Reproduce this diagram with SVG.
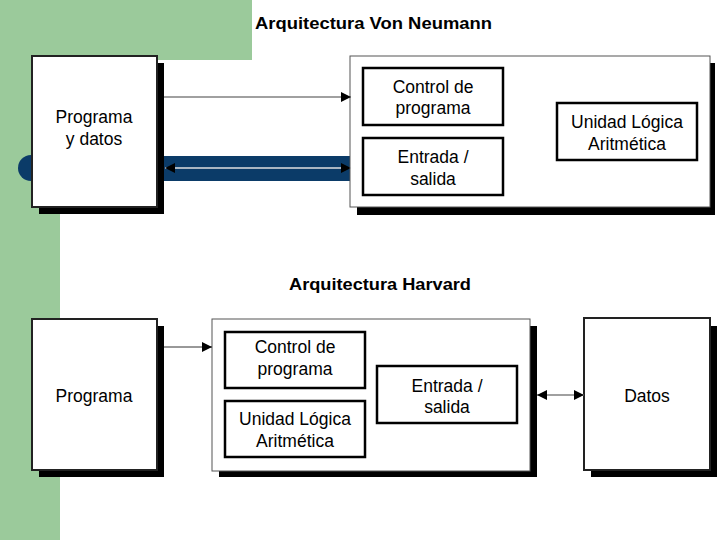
<svg xmlns="http://www.w3.org/2000/svg" width="720" height="540" viewBox="0 0 720 540">
<style>
.t{font-family:"Liberation Sans",Arial,sans-serif;font-size:17.5px;fill:#000;text-anchor:middle}
.h{font-family:"Liberation Sans",Arial,sans-serif;font-size:17px;font-weight:bold;fill:#000}
.sh{fill:#000}
.outer{fill:#fff;stroke:#555;stroke-width:1}
.mem{fill:#fff;stroke:#222;stroke-width:2}
.inner{fill:#fff;stroke:#000;stroke-width:2.5}
.ln{stroke:#808080;stroke-width:1.5;fill:none}
</style>
<defs>
<marker id="ah" markerWidth="10" markerHeight="10" refX="10" refY="5" orient="auto" markerUnits="userSpaceOnUse">
<path d="M0,0 L10,5 L0,10 Z" fill="#000"/>
</marker>
<marker id="ahs" markerWidth="10" markerHeight="10" refX="10" refY="5" orient="auto-start-reverse" markerUnits="userSpaceOnUse">
<path d="M0,0 L10,5 L0,10 Z" fill="#000"/>
</marker>
</defs>
<rect x="0" y="0" width="252" height="60" fill="#9bca9b"/>
<rect x="0" y="0" width="60" height="540" fill="#9bca9b"/>
<g id="blueband">
<circle cx="31" cy="168" r="13" fill="#0b3b68"/>
<rect x="160" y="156" width="192" height="25" fill="#0b3b68"/>
</g>
<text class="h" x="255" y="29" textLength="237" lengthAdjust="spacingAndGlyphs">Arquitectura Von Neumann</text>
<text class="h" x="289" y="290" textLength="182" lengthAdjust="spacingAndGlyphs">Arquitectura Harvard</text>
<g id="vn-mem">
<rect class="sh" x="39" y="63" width="125" height="151"/>
<rect class="mem" x="32" y="56" width="125" height="151"/>
<text class="t" x="94" y="123">Programa</text>
<text class="t" x="94" y="145">y datos</text>
</g>
<g id="vn-cpu">
<rect class="sh" x="357" y="63" width="358" height="152"/>
<rect class="outer" x="350" y="56" width="360" height="151"/>
</g>
<g id="vn-control">
<rect class="inner" x="363" y="68" width="140" height="57"/>
<text class="t" x="433" y="93">Control de</text>
<text class="t" x="433" y="114">programa</text>
</g>
<g id="vn-io">
<rect class="inner" x="363" y="138" width="140" height="57"/>
<text class="t" x="433" y="163">Entrada /</text>
<text class="t" x="433" y="185">salida</text>
</g>
<g id="vn-alu">
<rect class="inner" x="557" y="103" width="140" height="57"/>
<text class="t" x="627" y="128">Unidad Lógica</text>
<text class="t" x="627" y="150">Aritmética</text>
</g>
<g id="hv-prog">
<rect class="sh" x="39" y="326" width="125" height="151"/>
<rect class="mem" x="32" y="319" width="125" height="151"/>
<text class="t" x="94" y="402">Programa</text>
</g>
<g id="hv-cpu">
<rect class="sh" x="219" y="326" width="318" height="151"/>
<rect class="outer" x="212" y="319" width="318" height="152"/>
</g>
<g id="hv-control">
<rect class="inner" x="225" y="332" width="140" height="56"/>
<text class="t" x="295" y="353">Control de</text>
<text class="t" x="295" y="375">programa</text>
</g>
<g id="hv-alu">
<rect class="inner" x="225" y="401" width="140" height="56"/>
<text class="t" x="295" y="425">Unidad Lógica</text>
<text class="t" x="295" y="447">Aritmética</text>
</g>
<g id="hv-io">
<rect class="inner" x="377" y="366" width="140" height="57"/>
<text class="t" x="447" y="392">Entrada /</text>
<text class="t" x="447" y="413">salida</text>
</g>
<g id="hv-datos">
<rect class="sh" x="591" y="326" width="126" height="151"/>
<rect class="mem" x="584" y="318" width="126" height="152"/>
<text class="t" x="647" y="402">Datos</text>
</g>
<g id="connectors">
<line class="ln" x1="164" y1="97" x2="351" y2="97" marker-end="url(#ah)"/>
<line x1="165" y1="168" x2="351" y2="168" stroke="#e0e0e0" stroke-width="1.5" marker-start="url(#ahs)" marker-end="url(#ahs)"/>
<line x1="164" y1="347" x2="212" y2="347" stroke="#333" stroke-width="1" marker-end="url(#ah)"/>
<line class="ln" x1="537" y1="395" x2="584" y2="395" marker-start="url(#ahs)" marker-end="url(#ahs)"/>
</g>
</svg>
